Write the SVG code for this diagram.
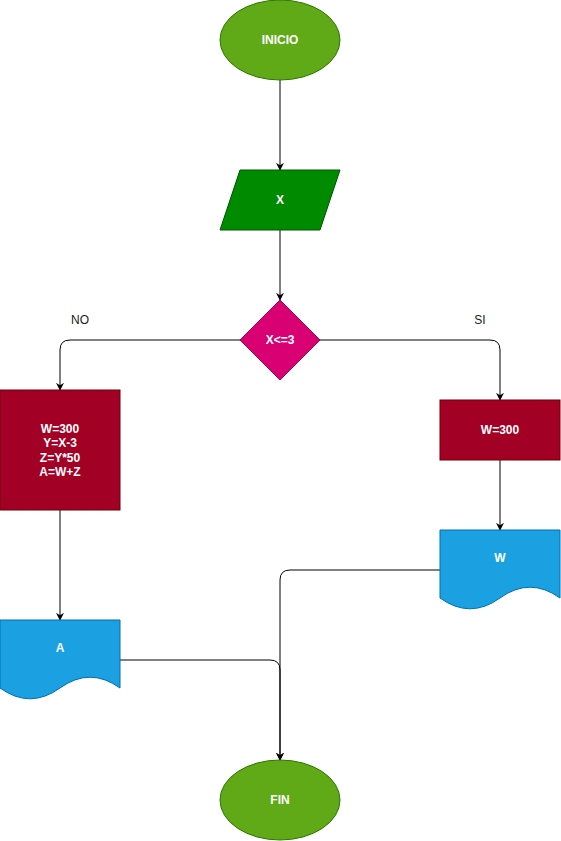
<svg xmlns="http://www.w3.org/2000/svg" width="561" height="841" viewBox="0 0 561 841">
<defs>
<marker id="arr" viewBox="0 0 10 10" refX="9" refY="5" markerWidth="8" markerHeight="8" markerUnits="userSpaceOnUse" orient="auto">
<path d="M0,0 L10,5 L0,10 L3,5 Z" fill="#000"/>
</marker>
<style>
.t{font-family:"Liberation Sans",Arial,sans-serif;font-size:12px;font-weight:bold;fill:#ffffff;text-anchor:middle;}
.l{font-family:"Liberation Sans",Arial,sans-serif;font-size:12px;fill:#1a1a1a;text-anchor:middle;}
.c{fill:none;stroke:#000;stroke-width:1;}
</style>
</defs>
<rect width="561" height="841" fill="#fff"/>
<g id="connectors">
<path class="c" d="M280,80 V170" marker-end="url(#arr)"/>
<path class="c" d="M280,230 V300" marker-end="url(#arr)"/>
<path class="c" d="M240,340 H70 Q60,340 60,350 V390" marker-end="url(#arr)"/>
<path class="c" d="M320,340 H490 Q500,340 500,350 V400" marker-end="url(#arr)"/>
<path class="c" d="M60,510 V620" marker-end="url(#arr)"/>
<path class="c" d="M500,460 V530" marker-end="url(#arr)"/>
<path class="c" d="M120,660 H270 Q280,660 280,670 V760" marker-end="url(#arr)"/>
<path class="c" d="M440,570 H290 Q280,570 280,580 V760" marker-end="url(#arr)"/>
<text class="l" x="80" y="324">NO</text>
<text class="l" x="480" y="324">SI</text>
</g>
<g id="inicio">
<ellipse cx="280" cy="40" rx="60" ry="40" fill="#60a917" stroke="#2d7600"/>
<text class="t" x="280" y="44">INICIO</text>
</g>
<g id="x">
<polygon points="240,170 340,170 320,230 220,230" fill="#008a00" stroke="#005700"/>
<text class="t" x="280" y="204">X</text>
</g>
<g id="cond">
<polygon points="280,300 320,340 280,380 240,340" fill="#d80073" stroke="#a50040"/>
<text class="t" x="280" y="344">X&lt;=3</text>
</g>
<g id="calc">
<rect x="0" y="390" width="120" height="120" fill="#a20025" stroke="#6f0000"/>
<text class="t" x="60" y="432.5">W=300</text>
<text class="t" x="60" y="447">Y=X-3</text>
<text class="t" x="60" y="461.5">Z=Y*50</text>
<text class="t" x="60" y="476">A=W+Z</text>
</g>
<g id="w300">
<rect x="440" y="400" width="120" height="60" fill="#a20025" stroke="#6f0000"/>
<text class="t" x="500" y="434">W=300</text>
</g>
<g id="docA">
<path d="M0,620 H120 V688 Q90,666.4 60,688 Q30,709.6 0,688 Z" fill="#1ba1e2" stroke="#006eaf"/>
<text class="t" x="60" y="652">A</text>
</g>
<g id="docW">
<path d="M440,530 H560 V598 Q530,576.4 500,598 Q470,619.6 440,598 Z" fill="#1ba1e2" stroke="#006eaf"/>
<text class="t" x="500" y="562">W</text>
</g>
<g id="fin">
<ellipse cx="280" cy="800" rx="60" ry="40" fill="#60a917" stroke="#2d7600"/>
<text class="t" x="280" y="804">FIN</text>
</g>
</svg>
